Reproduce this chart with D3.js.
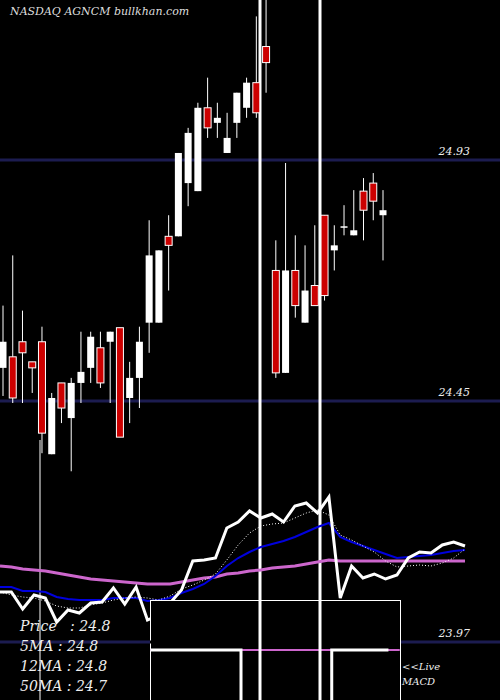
<!DOCTYPE html>
<html><head><meta charset="utf-8">
<script src="https://cdn.jsdelivr.net/npm/d3@7"></script>
<style>body{margin:0;background:#000}svg{display:block}</style>
</head><body><svg width="500" height="700"></svg>
<script>
// candles: [open, high, low, close]
const candles = [
  [24.516,24.64,24.46,24.568],[24.538,24.74,24.446,24.456],[24.568,24.63,24.446,24.546],
  [24.528,24.528,24.466,24.516],[24.568,24.598,24.346,24.386],[24.344,24.466,24.344,24.456],
  [24.486,24.486,24.406,24.436],[24.416,24.496,24.31,24.486],[24.486,24.588,24.446,24.508],
  [24.516,24.588,24.486,24.578],[24.556,24.588,24.476,24.486],[24.568,24.588,24.446,24.588],
  [24.596,24.596,24.378,24.378],[24.456,24.528,24.406,24.496],[24.496,24.598,24.436,24.568],
  [24.606,24.81,24.546,24.74],[24.606,24.75,24.606,24.75],[24.778,24.82,24.67,24.76],
  [24.778,24.944,24.778,24.944],[24.884,24.994,24.838,24.984],[24.868,25.044,24.868,25.034],
  [25.034,25.094,24.974,24.994],[25.004,25.044,24.974,25.014],[24.944,25.024,24.944,24.974],
  [25.004,25.064,24.974,25.064],[25.034,25.094,25.014,25.084],[25.084,25.216,25.014,25.024],
  [25.156,25.25,25.064,25.124],[24.71,24.77,24.496,24.506],[24.506,24.924,24.506,24.71],
  [24.71,24.78,24.616,24.64],[24.606,24.76,24.606,24.67],[24.68,24.80,24.64,24.64],
  [24.82,24.82,24.65,24.66],[24.75,24.80,24.71,24.76],[24.798,24.84,24.78,24.798],
  [24.78,24.87,24.78,24.79],[24.868,24.894,24.77,24.83],[24.884,24.904,24.81,24.848],
  [24.82,24.87,24.73,24.83]
]
const priceLevels = [24.93, 24.45, 23.97]
const priceLine = [108,108,91,105,102,78,90,87,97,98,112,96,113,80,85,97,110,139,140,142,172,178,189,182,186,178,194,197,187,203,102,134,122,126,121,125,142,148,147,155,158,154]
const ma5 = [108,105,103,102,99,94,92,92,95,97,100,102,103,102,100,104,111,115,120,126,140,155,167,174,176,177,182,187,190,185,165,160,154,148,139,133,134,135,134,137,142,151]
const ma12 = [113,113,109,109,108,103,101,100,100,100,102,102,102,99,100,102,107,111,116,124,134,142,148,153,156,159,163,168,173,177,163,158,154,150,146,142,143,144,145,147,149,150]
const ma50 = [134,133,131,130,129,127,125,123,121,120,119,118,117,116,116,116,118,120,122,123,126,127,129,130,132,133,134,136,138,140,139,139,139,139,139,139,139,139,139,139,139,139]
const macdIdx = [13,14,15,16,17,18,19,20,21,22,23,24,25,26,27,28,29,30,31,32,33,34]
const macdVals = [50,50,50,50,50,50,50,50,0,0,0,0,0,0,0,0,50,50,50,50,50,50]
const labels = ['Price   : 24.8','5MA : 24.8','12MA : 24.8','50MA : 24.7']

const svg = d3.select('svg')
const serif = '"DejaVu Serif", "Liberation Serif", serif'
const y = d3.scaleLinear().domain([24.93, 23.97]).range([160, 642])
const x = d3.scaleLinear().domain([0, 39]).range([3, 383])
const xp = d3.scaleLinear().domain([0, 41]).range([0, 465])
const yp = d3.scaleLinear().domain([0, 200]).range([700, 500])

priceLevels.forEach(p => {
  svg.append('line').attr('x1', 0).attr('x2', 500).attr('y1', y(p)).attr('y2', y(p))
    .attr('stroke', '#1c1c50').attr('stroke-width', 3)
  svg.append('text').attr('x', 470).attr('y', y(p) - 5).attr('text-anchor', 'end')
    .attr('fill', '#eee').attr('font-family', serif).attr('font-style', 'italic')
    .attr('font-size', 11).text(p.toFixed(2))
})

// markers
svg.append('line').attr('x1', 40).attr('x2', 40).attr('y1', 440).attr('y2', 700).attr('stroke', '#fff').attr('stroke-width', 1)
;[260, 320].forEach(v => svg.append('line').attr('x1', v).attr('x2', v).attr('y1', 0).attr('y2', 700)
  .attr('stroke', '#fff').attr('stroke-width', 3))

candles.forEach((c, i) => {
  const [o, h, l, cl] = c
  const up = cl >= o
  svg.append('line').attr('x1', x(i)).attr('x2', x(i)).attr('y1', y(h)).attr('y2', y(l))
    .attr('stroke', '#fff').attr('stroke-width', 1)
  svg.append('rect').attr('x', x(i) - 3.5).attr('width', 7)
    .attr('y', y(Math.max(o, cl))).attr('height', Math.max(1.5, Math.abs(y(o) - y(cl))))
    .attr('fill', up ? '#fff' : '#cc0000').attr('stroke', up ? 'none' : '#fff').attr('stroke-width', 1)
})

const line = d3.line().x((d, i) => xp(i)).y(d => yp(d))
svg.append('path').attr('d', line(ma50)).attr('fill', 'none').attr('stroke', '#cc66cc').attr('stroke-width', 3)
svg.append('path').attr('d', line(ma12)).attr('fill', 'none').attr('stroke', '#0000dd').attr('stroke-width', 2)
svg.append('path').attr('d', line(ma5)).attr('fill', 'none').attr('stroke', '#fff').attr('stroke-width', 1).attr('stroke-dasharray', '1,2')
svg.append('path').attr('d', line(priceLine)).attr('fill', 'none').attr('stroke', '#fff').attr('stroke-width', 3)

// MACD inset
svg.append('rect').attr('x', 150.5).attr('y', 600.5).attr('width', 250).attr('height', 110)
  .attr('fill', '#000').attr('stroke', '#fff').attr('stroke-width', 1)
svg.append('line').attr('x1', 150).attr('x2', 400).attr('y1', y(23.97)).attr('y2', y(23.97)).attr('stroke', '#000').attr('stroke-width', 3)
svg.append('path').attr('d', d3.line().x(d => xp(d)).y(() => yp(50))([13.25, 35.25]))
  .attr('stroke', '#cc66cc').attr('stroke-width', 2)
svg.append('path').attr('d', d3.line().curve(d3.curveStepAfter).x(d => xp(d[0])).y(d => yp(d[1]) + (d[1] ? 0 : 5))(macdIdx.map((k, i) => [k + 0.25, macdVals[i]])))
  .attr('fill', 'none').attr('stroke', '#fff').attr('stroke-width', 3)
;[260, 320].forEach(v => svg.append('line').attr('x1', v).attr('x2', v).attr('y1', 600).attr('y2', 700)
  .attr('stroke', '#fff').attr('stroke-width', 3))

svg.append('text').attr('x', 10).attr('y', 15).attr('fill', '#ddd').attr('font-family', serif)
  .attr('font-style', 'italic').attr('font-size', 11).text('NASDAQ AGNCM bullkhan.com')
labels.forEach((t, i) => svg.append('text').attr('x', 20).attr('y', 631 + i * 20).attr('fill', '#eee')
  .attr('font-family', serif).attr('font-style', 'italic').attr('font-size', 14).attr('xml:space', 'preserve').text(t))
;['<<Live', 'MACD'].forEach((t, i) => svg.append('text').attr('x', 402).attr('y', 670 + i * 15)
  .attr('fill', '#eee').attr('font-family', serif).attr('font-style', 'italic').attr('font-size', 10).text(t))
</script></body></html>
